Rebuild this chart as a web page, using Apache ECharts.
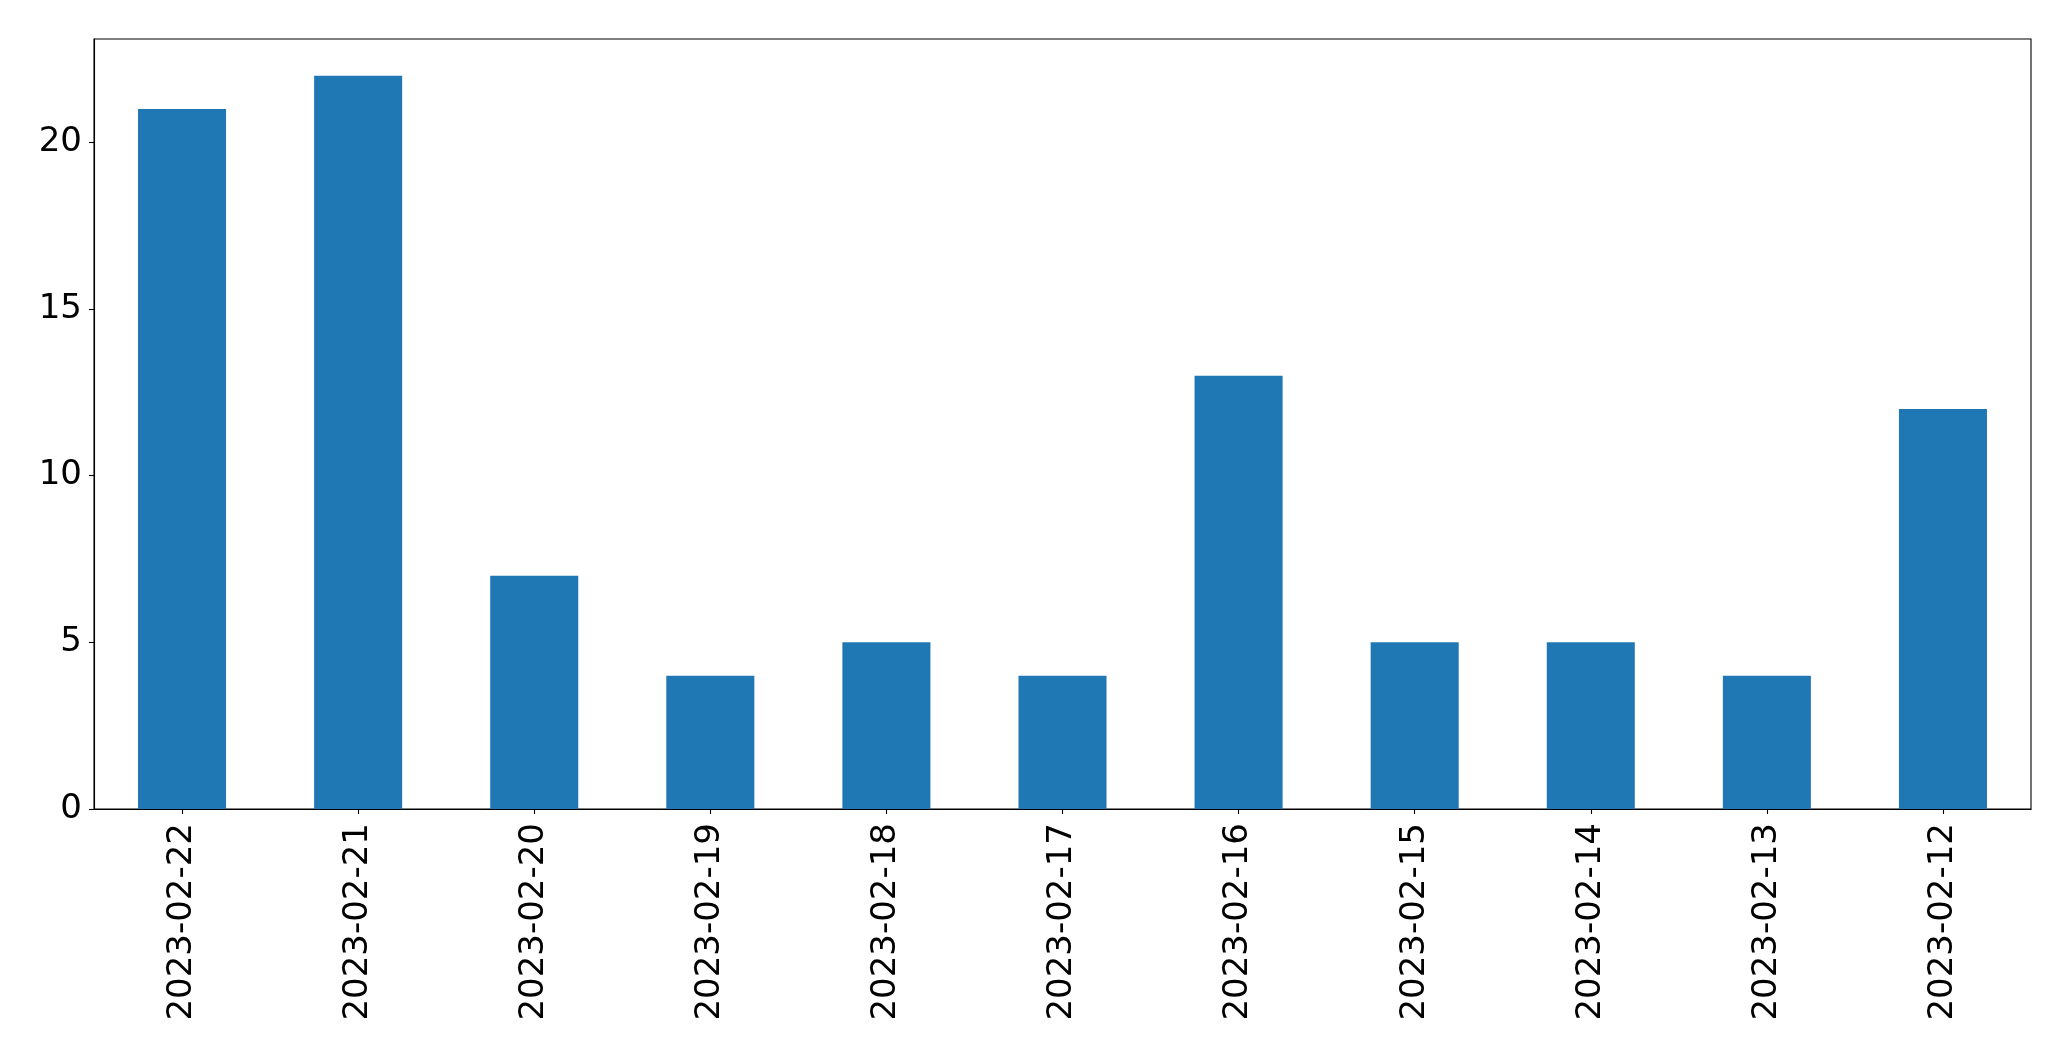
<!DOCTYPE html>
<html>
<head>
<meta charset="utf-8">
<script src="https://cdn.jsdelivr.net/npm/echarts@6/dist/echarts.min.js"></script>
<style>html,body{margin:0;padding:0;background:#fff}#c{width:2071px;height:1061px}</style>
</head>
<body>
<div id="c"></div>
<script>
const categories = ['2023-02-22','2023-02-21','2023-02-20','2023-02-19','2023-02-18','2023-02-17','2023-02-16','2023-02-15','2023-02-14','2023-02-13','2023-02-12'];
const values = [21, 22, 7, 4, 5, 4, 13, 5, 5, 4, 12];
const yTicks = [0, 5, 10, 15, 20];

const chart = echarts.init(document.getElementById('c'));
chart.setOption({
  animation: false,
  grid: {left: 94, top: 39, width: 1937, height: 770, show: true, borderColor: '#000', borderWidth: 1.1, backgroundColor: 'transparent'},
  xAxis: {
    type: 'category', data: categories, boundaryGap: true,
    axisLine: {show: true, lineStyle: {color: '#000', width: 1.1}},
    axisTick: {show: true, alignWithLabel: true, length: 5, lineStyle: {color: '#000', width: 1.1}},
    axisLabel: {rotate: 90, interval: 0, margin: 14, color: '#000', fontSize: 34, fontFamily: 'DejaVu Sans'},
    splitLine: {show: false}
  },
  yAxis: {
    type: 'value', min: 0, max: 23.1, interval: 5,
    axisLine: {show: true, lineStyle: {color: '#000', width: 1.1}},
    axisTick: {show: true, length: 5, customValues: yTicks, lineStyle: {color: '#000', width: 1.1}},
    axisLabel: {margin: 12, color: '#000', fontSize: 34, fontFamily: 'DejaVu Sans', customValues: yTicks},
    splitLine: {show: false}
  },
  series: [{type: 'bar', data: values, barWidth: '50%', itemStyle: {color: '#1f77b4'}}]
});
</script>
</body>
</html>
